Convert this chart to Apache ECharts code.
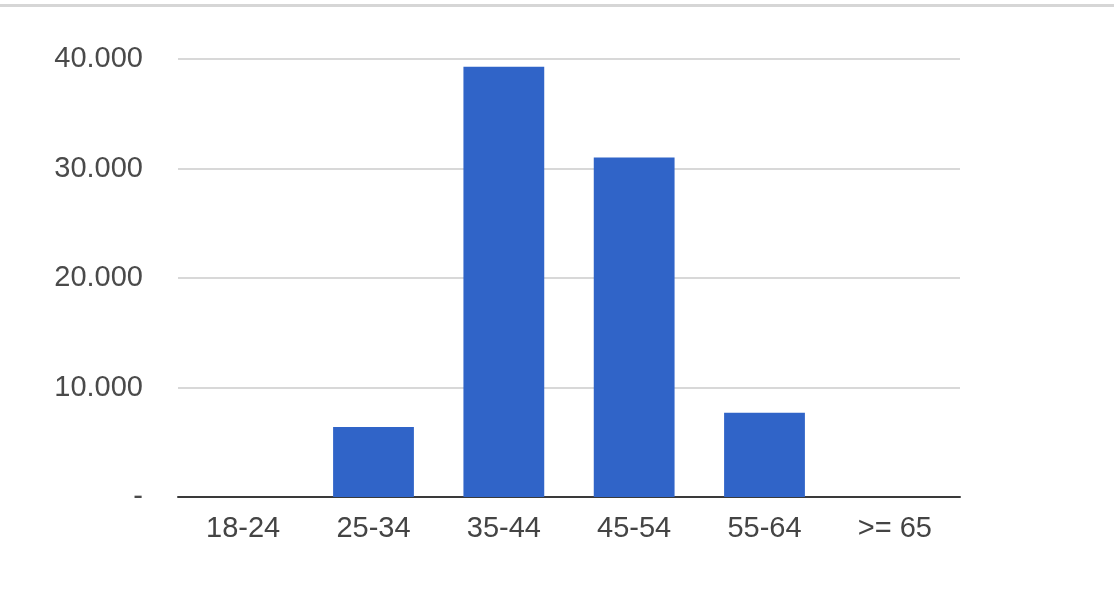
<!DOCTYPE html>
<html>
<head>
<meta charset="utf-8">
<script src="https://cdn.jsdelivr.net/npm/echarts@6/dist/echarts.min.js"></script>
<style>
  html, body { margin: 0; padding: 0; background: #fff; }
  #topline { position: absolute; left: 0; top: 4px; width: 1114px; height: 3px; background: #d6d6d6; }
  #main { width: 1114px; height: 591px; }
</style>
</head>
<body>
<div id="topline"></div>
<div id="main"></div>
<script>
  // age groups and counts
  var categories = ['18-24', '25-34', '35-44', '45-54', '55-64', '>= 65'];
  var values = [0, 6400, 39300, 31000, 7700, 0];
  var yTicks = [0, 10000, 20000, 30000, 40000];

  var myChart = echarts.init(document.getElementById('main'));
  myChart.setOption({
    animation: false,
    grid: { left: 178, right: 154, top: 59, bottom: 94 },
    xAxis: {
      type: 'category',
      data: categories,
      axisTick: { show: false },
      axisLine: { lineStyle: { color: '#3a3a3a', width: 2 } },
      axisLabel: {
        color: '#444',
        fontSize: 29,
        fontFamily: 'Liberation Sans, Arial, sans-serif',
        margin: 17
      }
    },
    yAxis: {
      type: 'value',
      min: yTicks[0],
      max: yTicks[yTicks.length - 1],
      interval: 10000,
      axisLine: { show: false },
      axisTick: { show: false },
      splitLine: { lineStyle: { color: '#d8d8d8', width: 2 } },
      axisLabel: {
        color: '#4a4a4a',
        fontSize: 29,
        fontFamily: 'Liberation Sans, Arial, sans-serif',
        margin: 35,
        formatter: function (v) {
          if (v === 0) return '-';
          return String(v).replace(/\B(?=(\d{3})+(?!\d))/g, '.');
        }
      }
    },
    series: [{
      type: 'bar',
      data: values,
      barWidth: '62%',
      itemStyle: { color: '#3064c8' }
    }]
  });
</script>
</body>
</html>
